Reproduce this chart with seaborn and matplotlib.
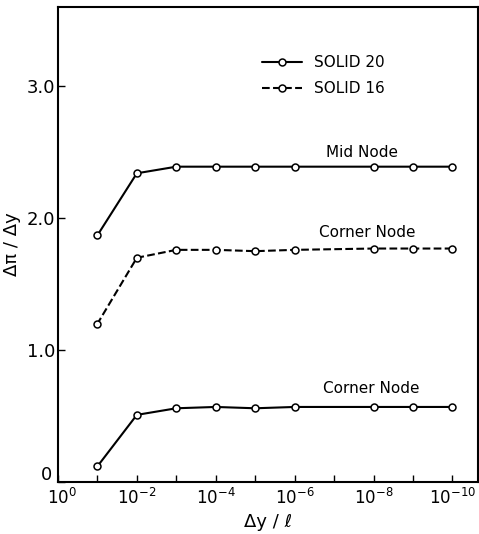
import numpy as np
import pandas as pd
import seaborn as sns
import matplotlib
matplotlib.use("Agg")
import matplotlib.pyplot as plt
from matplotlib.ticker import FixedLocator, NullLocator
import matplotlib.transforms as mtrans


# element size ratio dy/l (no point at 1e-7 in the original)
dy_ratio = [1e-1, 1e-2, 1e-3, 1e-4, 1e-5, 1e-6, 1e-8, 1e-9, 1e-10]

mid_node_20 = [1.87, 2.34, 2.39, 2.39, 2.39, 2.39, 2.39, 2.39, 2.39]
corner_node_16 = [1.20, 1.70, 1.76, 1.76, 1.75, 1.76, 1.77, 1.77, 1.77]
corner_node_20 = [0.12, 0.51, 0.56, 0.57, 0.56, 0.57, 0.57, 0.57, 0.57]

xtick_vals = [1e0, 1e-1, 1e-2, 1e-3, 1e-4, 1e-5, 1e-6, 1e-7, 1e-8, 1e-9, 1e-10]
xtick_text = [r"$10^{0}$", "", r"$10^{-2}$", "", r"$10^{-4}$", "", r"$10^{-6}$", "",
              r"$10^{-8}$", "", r"$10^{-10}$"]
ytick_vals = [0, 1.0, 2.0, 3.0]
ytick_text = ["0", "1.0", "2.0", "3.0"]

sns.set_style("ticks")
plt.rcParams['font.family'] = ['DejaVu Sans']
plt.rcParams['mathtext.fontset'] = 'dejavusans'
plt.rcParams['text.color'] = 'black'
plt.rcParams['axes.labelcolor'] = 'black'

fig = plt.figure(figsize=(4.79, 5.34), dpi=100)
ax = fig.add_axes([0.121, 0.097, 0.877, 0.890])

mk = dict(marker='o', markersize=5, markerfacecolor='white', markeredgecolor='black',
          markeredgewidth=1.1, color='black', linewidth=1.5)

sns.lineplot(x=dy_ratio, y=mid_node_20, ax=ax, label="SOLID 20", **mk)
sns.lineplot(x=dy_ratio, y=corner_node_16, ax=ax, label="SOLID 16", linestyle='--', **mk)
sns.lineplot(x=dy_ratio, y=corner_node_20, ax=ax, **mk)

ax.set_xscale('log')
ax.set_xlim(1e0, 10 ** -10.65)
ax.set_ylim(0, 3.6)
ax.xaxis.set_major_locator(FixedLocator(xtick_vals))
ax.set_xticklabels(xtick_text)
ax.xaxis.set_minor_locator(NullLocator())
ax.set_yticks(ytick_vals)
ax.set_yticklabels(ytick_text)
ax.tick_params(direction='in', length=5, width=1, colors='black')
ax.tick_params(axis='x', labelsize=12, pad=4)
ax.tick_params(axis='y', labelsize=13, pad=2)
for s in ax.spines.values():
    s.set_linewidth(1.5)
    s.set_color('black')

# nudge the "0" label up and the 10^0 label right like the original
zero_lbl = ax.get_yticklabels()[0]
zero_lbl.set_transform(zero_lbl.get_transform() + mtrans.ScaledTranslation(-0.03, 0.09, fig.dpi_scale_trans))
one_lbl = ax.get_xticklabels()[0]
one_lbl.set_transform(one_lbl.get_transform() + mtrans.ScaledTranslation(0.04, 0, fig.dpi_scale_trans))

ax.set_xlabel("Δy / ℓ", fontsize=13, labelpad=4)
ax.set_ylabel("Δπ / Δy", fontsize=13, labelpad=4)

ax.text(10 ** -7.72, 2.50, "Mid Node", fontsize=11, ha='center', va='center')
ax.text(10 ** -7.85, 1.89, "Corner Node", fontsize=11, ha='center', va='center')
ax.text(10 ** -7.95, 0.71, "Corner Node", fontsize=11, ha='center', va='center')

ax.legend(loc='upper left', bbox_to_anchor=(0.453, 0.928), frameon=False, fontsize=11,
          handlelength=2.6, numpoints=1, labelspacing=0.75)

fig.savefig("out.png", dpi=100)
